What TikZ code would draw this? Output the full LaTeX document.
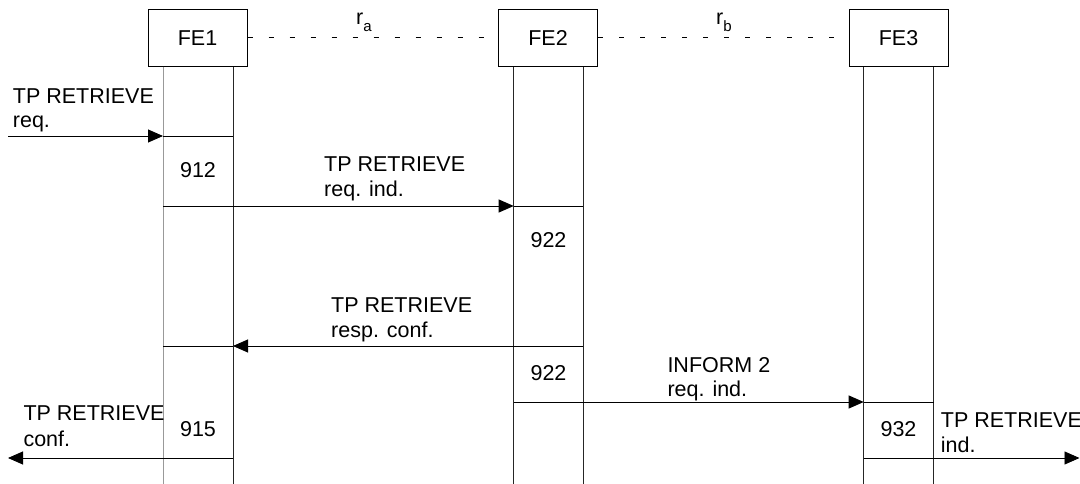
\documentclass[tikz,border=0pt]{standalone}
\usepackage{fontspec}
\setmainfont{Liberation Sans}
\usetikzlibrary{arrows.meta}
\begin{document}
\begin{tikzpicture}[x=1pt,y=-1pt,
  every node/.style={font=\fontsize{21.5}{24}\selectfont},
  febox/.style={draw,line width=1pt,minimum width=99pt,minimum height=56.7pt,inner sep=0pt},
  life/.style={line width=1pt,black!85},
  lifegray/.style={line width=1pt,black!40},
  msg/.style={line width=0.9pt,-{Triangle[length=15pt,width=13pt]}},
  plain/.style={line width=0.9pt},
  lbl/.style={anchor=base west,inner sep=0pt},
  num/.style={anchor=base,inner sep=0pt},
  ref/.style={line width=1pt,dash pattern=on 5pt off 16pt}]
\useasboundingbox (0,0) rectangle (1080,484);
% entities
\node[febox] (FE1) at (197.5,38.3) {FE1};
\node[febox] (FE2) at (548,38.3) {FE2};
\node[febox] (FE3) at (898.5,38.3) {FE3};
% reference points
\draw[ref] (FE1.east |- 0,38) -- (FE2.west |- 0,38);
\draw[ref] (FE2.east |- 0,38) -- (FE3.west |- 0,38);
\node[lbl] (ra) at (356,25) {r\raisebox{-6.5pt}{\fontsize{15}{15}\selectfont a}};
\node[lbl] (rb) at (716,25) {r\raisebox{-6.5pt}{\fontsize{15}{15}\selectfont b}};
% lifeline coordinates
\coordinate (A1t) at (163,66.7);   \coordinate (A1b) at (163,484);
\coordinate (A2t) at (233,66.7);   \coordinate (A2b) at (233,484);
\coordinate (B1t) at (513.7,66.7); \coordinate (B1b) at (513.7,484);
\coordinate (B2t) at (583,66.7);   \coordinate (B2b) at (583,484);
\coordinate (C1t) at (863.7,66.7); \coordinate (C1b) at (863.7,484);
\coordinate (C2t) at (933.7,66.7); \coordinate (C2b) at (933.7,484);
\draw[lifegray] (A1t) -- (A1b);
\draw[life] (A2t) -- (A2b);
\draw[life] (B1t) -- (B1b);
\draw[life] (B2t) -- (B2b);
\draw[life] (C1t) -- (C1b);
\draw[life] (C2t) -- (C2b);
% message end points
\coordinate (m1s) at (8,136);
\coordinate (m1a) at (163,136);
\coordinate (m1b) at (233,136);
\coordinate (m2a) at (163,206);
\coordinate (m2b) at (513.7,206);
\coordinate (m2c) at (583,206);
\coordinate (m3a) at (583,346);
\coordinate (m3b) at (233,346);
\coordinate (m3c) at (163,346);
\coordinate (m4a) at (513.7,402);
\coordinate (m4b) at (863.7,402);
\coordinate (m4c) at (933.7,402);
\coordinate (m5a) at (863.7,458);
\coordinate (m5b) at (1079.5,458);
\coordinate (m6a) at (233,458);
\coordinate (m6b) at (8,458);
% messages
\draw[msg] (m1s) -- (m1a); \draw[plain] (m1a) -- (m1b);
\draw[msg] (m2a) -- (m2b); \draw[plain] (m2b) -- (m2c);
\draw[msg] (m3a) -- (m3b); \draw[plain] (m3b) -- (m3c);
\draw[msg] (m4a) -- (m4b); \draw[plain] (m4b) -- (m4c);
\draw[msg] (m5a) -- (m5b);
\draw[msg] (m6a) -- (m6b);
% labels
\node[lbl] (t1a) at (12.7,104) {TP RETRIEVE};
\node[lbl] (t1b) at (12.7,128) {req.};
\node[lbl] (t2a) at (324,172) {TP RETRIEVE};
\node[lbl] (t2b) at (324,196.5) {req. ind.};
\node[lbl] (t3a) at (331,312.7) {TP RETRIEVE};
\node[lbl] (t3b) at (331,337.3) {resp. conf.};
\node[lbl] (t4a) at (667.3,372.3) {INFORM 2};
\node[lbl] (t4b) at (667.3,396.7) {req. ind.};
\node[lbl] (t5a) at (940.7,427.7) {TP RETRIEVE};
\node[lbl] (t5b) at (940.7,452.7) {ind.};
\node[lbl] (t6a) at (23.3,420.7) {TP RETRIEVE};
\node[lbl] (t6b) at (23.3,446) {conf.};
% process numbers
\node[num] (n912) at (198,177.3) {912};
\node[num] (n922a) at (548.5,247.3) {922};
\node[num] (n922b) at (548.5,380) {922};
\node[num] (n932) at (898.5,436.7) {932};
\node[num] (n915) at (198,436.7) {915};
\end{tikzpicture}
\end{document}
